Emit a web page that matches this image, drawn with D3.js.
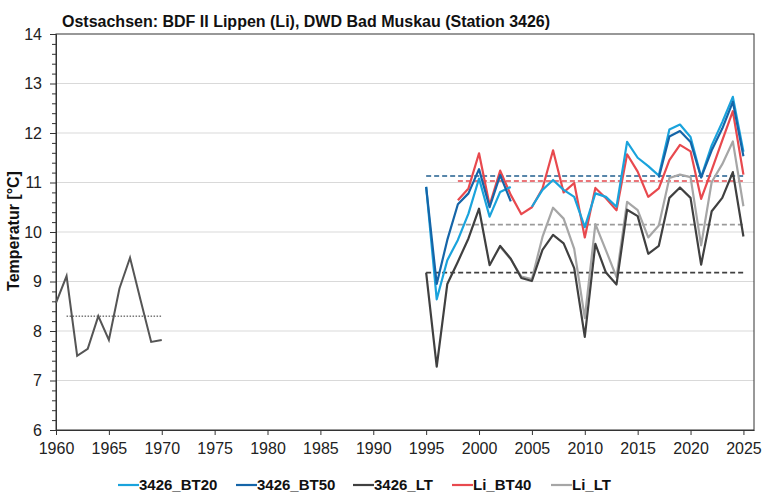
<!DOCTYPE html>
<html>
<head>
<meta charset="utf-8">
<script src="https://cdn.jsdelivr.net/npm/d3@7"></script>
<style>
  body { margin: 0; background: #fff; }
  svg { font-family: "Liberation Sans", Arial, sans-serif; }
  .axis text { font-size: 16px; fill: #222; }
  .axis path, .axis line { stroke: #333; }
</style>
</head>
<body>
<svg id="chart"></svg>
<script>
const width = 780;
const height = 504;
const margin = { top: 34, left: 56, bottom: 74, right: 26 };

// --- data ---
const yearsEarly = [1960, 1961, 1962, 1963, 1964, 1965, 1966, 1967, 1968, 1969, 1970];
const lt3426Early = [8.57, 9.11, 7.50, 7.64, 8.30, 7.82, 8.86, 9.48, 8.62, 7.78, 7.82];

const years = [1995, 1996, 1997, 1998, 1999, 2000, 2001, 2002, 2003, 2004,
               2005, 2006, 2007, 2008, 2009, 2010, 2011, 2012, 2013, 2014,
               2015, 2016, 2017, 2018, 2019, 2020, 2021, 2022, 2023, 2024, 2025];

const bt20 = [10.91, 8.64, 9.43, 9.84, 10.37, 11.08, 10.31, 10.81, 10.91, null,
              10.51, 10.85, 11.05, 10.85, 10.71, 10.10, 10.78, 10.71, 10.51, 11.82,
              11.50, 11.33, 11.14, 12.07, 12.17, 11.92, 11.11, 11.75, 12.22, 12.73, 11.62];

const bt50 = [10.91, 8.95, 9.84, 10.56, 10.78, 11.27, 10.50, 11.15, 10.62, null,
              null, null, null, null, null, null, null, null, null, null,
              null, null, 11.10, 11.93, 12.04, 11.82, 11.10, 11.65, 12.09, 12.63, 11.53];

const lt3426 = [9.18, 7.28, 8.95, 9.40, 9.87, 10.47, 9.33, 9.72, 9.46, 9.07,
                9.01, 9.64, 9.94, 9.77, 9.27, 7.88, 9.76, 9.18, 8.94, 10.45,
                10.32, 9.56, 9.72, 10.69, 10.90, 10.69, 9.34, 10.42, 10.69, 11.21, 9.91];

const liBt40 = [null, null, null, 10.64, 10.88, 11.59, 10.54, 11.24, 10.75, 10.36,
                10.50, 10.88, 11.65, 10.80, 10.99, 9.89, 10.89, 10.68, 10.44, 11.57,
                11.22, 10.71, 10.88, 11.45, 11.76, 11.63, 10.67, 11.25, 11.85, 12.44, 11.16];

const liLt = [null, null, null, null, null, null, null, 9.70, 9.45, 9.10,
              9.05, 9.90, 10.49, 10.27, 9.66, 8.26, 10.16, 9.63, 9.09, 10.61,
              10.44, 9.89, 10.13, 11.09, 11.16, 11.11, 9.73, 11.01, 11.37, 11.83, 10.52];

// mean lines: [value, start year, end year]
const meanLines = [
  { name: "bt", value: 11.13, from: 1995, to: 2025 },
  { name: "li_bt40", value: 11.03, from: 1998, to: 2025 },
  { name: "li_lt", value: 10.15, from: 1998, to: 2025 },
  { name: "lt", value: 9.18, from: 1995, to: 2025 }
];
const meanEarly = { value: 8.30, from: 1961, to: 1970 };

const xTicks = [1960, 1965, 1970, 1975, 1980, 1985, 1990, 1995, 2000, 2005, 2010, 2015, 2020, 2025];
const yTicks = [6, 7, 8, 9, 10, 11, 12, 13, 14];
const seriesNames = ["3426_BT20", "3426_BT50", "3426_LT", "Li_BT40", "Li_LT"];

const colors = {
  "3426_BT20": "#1aa3dc",
  "3426_BT50": "#1565a8",
  "3426_LT": "#404040",
  "Li_BT40": "#e8494e",
  "Li_LT": "#a6a6a6"
};
const meanColors = { bt: "#215f8f", li_bt40: "#e5474c", li_lt: "#9a9a9a", lt: "#404040" };

// --- chart ---
let svg = d3.select("#chart")
    .attr("width", width)
    .attr("height", height);

let x = d3.scaleLinear()
    .domain([1960, 2026])
    .range([margin.left, width - margin.right]);

let y = d3.scaleLinear()
    .domain([6, 14])
    .range([height - margin.bottom, margin.top]);

// gridlines
svg.append("g")
    .selectAll("line")
    .data(yTicks.slice(1, -1))
    .enter().append("line")
    .attr("x1", x(1960))
    .attr("x2", x(2026))
    .attr("y1", d => y(d))
    .attr("y2", d => y(d))
    .attr("stroke", "#d9d9d9")
    .attr("stroke-width", 1);

// frame
svg.append("rect")
    .attr("x", x(1960))
    .attr("y", y(14))
    .attr("width", x(2026) - x(1960))
    .attr("height", y(6) - y(14))
    .attr("fill", "none")
    .attr("stroke", "#333")
    .attr("stroke-width", 1);

// axes
let xAxis = svg.append("g")
    .attr("class", "axis")
    .attr("transform", `translate(0, ${y(6)})`)
    .call(d3.axisBottom(x).tickValues(xTicks).tickFormat(d3.format("d")).tickSize(5).tickSizeOuter(0));
xAxis.selectAll("text").attr("dy", "1.0em");

let minorTicks = [];
yTicks.slice(0, -1).forEach(t => [0.2, 0.4, 0.6, 0.8].forEach(f => minorTicks.push(t + f)));

svg.append("g")
    .attr("class", "axis")
    .attr("transform", `translate(${x(1960)}, 0)`)
    .call(d3.axisLeft(y).tickValues(minorTicks).tickSize(4).tickFormat("").tickSizeOuter(0));

let yAxis = svg.append("g")
    .attr("class", "axis")
    .attr("transform", `translate(${x(1960)}, 0)`)
    .call(d3.axisLeft(y).tickValues(yTicks).tickSize(6).tickPadding(8).tickSizeOuter(0));

svg.append("text")
    .attr("transform", `translate(18.5, ${(y(6) + y(14)) / 2 - 1}) rotate(-90)`)
    .attr("text-anchor", "middle")
    .style("font-size", "16px")
    .style("font-weight", "bold")
    .attr("fill", "#111")
    .text("Temperatur [°C]");

svg.append("text")
    .attr("x", 62)
    .attr("y", 27)
    .style("font-size", "16px")
    .style("font-weight", "bold")
    .attr("fill", "#111")
    .text("Ostsachsen: BDF II Lippen (Li), DWD Bad Muskau (Station 3426)");

// mean lines
svg.append("g")
    .selectAll("line")
    .data(meanLines)
    .enter().append("line")
    .attr("x1", d => x(d.from))
    .attr("x2", d => x(d.to))
    .attr("y1", d => y(d.value))
    .attr("y2", d => y(d.value))
    .attr("stroke", d => meanColors[d.name])
    .attr("stroke-width", 1.6)
    .attr("stroke-dasharray", "5,3");

svg.append("line")
    .attr("x1", x(meanEarly.from))
    .attr("x2", x(meanEarly.to))
    .attr("y1", y(meanEarly.value))
    .attr("y2", y(meanEarly.value))
    .attr("stroke", "#333")
    .attr("stroke-width", 1)
    .attr("stroke-dasharray", "1.5,1.5");

// series lines
let line = d3.line()
    .defined(d => d.v !== null)
    .x(d => x(d.year))
    .y(d => y(d.v));

const seriesData = [
  { name: "3426_BT20", values: bt20 },
  { name: "3426_BT50", values: bt50 },
  { name: "3426_LT", values: lt3426 },
  { name: "Li_BT40", values: liBt40 },
  { name: "Li_LT", values: liLt }
];

// early 3426_LT
svg.append("path")
    .datum(yearsEarly.map((yr, i) => ({ year: yr, v: lt3426Early[i] })))
    .attr("fill", "none")
    .attr("stroke", "#555")
    .attr("stroke-width", 2)
    .attr("d", line);

// draw order: Li_LT behind 3426_LT, BT50 over BT20
const drawOrder = ["Li_LT", "3426_LT", "Li_BT40", "3426_BT20", "3426_BT50"];
drawOrder.forEach(name => {
  let s = seriesData.find(d => d.name === name);
  svg.append("path")
      .datum(years.map((yr, i) => ({ year: yr, v: s.values[i] })))
      .attr("fill", "none")
      .attr("stroke", colors[name])
      .attr("stroke-width", 2.2)
      .attr("stroke-linejoin", "round")
      .attr("d", line);
});

// legend
const legendX = [118, 236, 353, 452, 551];
let legend = svg.append("g");
seriesNames.forEach((name, i) => {
  let g = legend.append("g").attr("transform", `translate(${legendX[i]}, 485)`);
  g.append("line")
      .attr("x1", 0).attr("x2", 21)
      .attr("stroke", colors[name])
      .attr("stroke-width", 2.2);
  g.append("text")
      .attr("x", 21)
      .attr("dy", "0.36em")
      .style("font-size", "15px")
      .style("font-weight", "bold")
      .attr("fill", "#111")
      .text(name);
});
</script>
</body>
</html>
